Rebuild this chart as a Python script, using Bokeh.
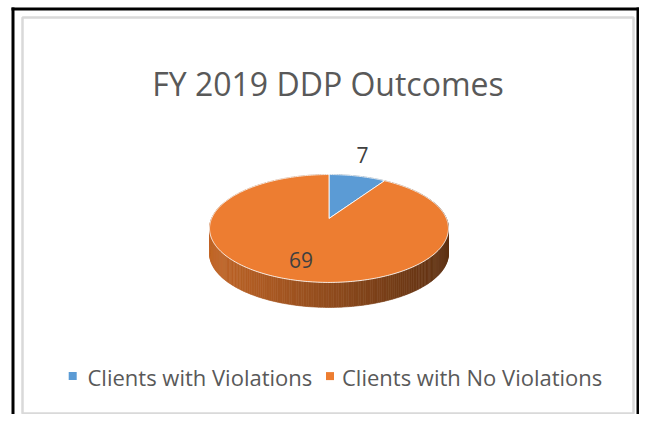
import math
from bokeh.plotting import figure
from bokeh.models import Range1d
from bokeh.core.properties import value
from bokeh.embed import file_html
from bokeh.resources import INLINE

# ---------------- data ----------------
title_text = "FY 2019 DDP Outcomes"
categories = ["Clients with Violations", "Clients with No Violations"]
counts = [7, 69]
colors = ["#5B9BD5", "#ED7D31"]

# ---------------- layout constants (pixels) ----------------
W, H = 639, 414
CX, CY = 328.5, 218.0
AX, BY = 117.4, 52.1
PERSP = -0.185
DEPTH = 25.0
LABEL_RADIUS = [1.22, 0.73]
LABEL_LIFT = [13.6, 0.0]
FONT = "Open Sans"
BASE_CORR = 0.36   # renderer places alphabetic baseline this many em too low


def by(y, size):
    return y - BASE_CORR * size


def proj(theta_deg, k=1.0):
    t = math.radians(theta_deg)
    u = k * math.sin(t)
    v = -k * math.cos(t)
    d = 1 + PERSP * v
    return CX + AX * u / d, CY + BY * v / d


def shade(hex_color, f):
    h = hex_color.lstrip("#")
    r, g, b = (int(h[i:i + 2], 16) for i in (0, 2, 4))
    return "#%02x%02x%02x" % (int(r * f), int(g * f), int(b * f))


p = figure(width=W, height=H, x_range=Range1d(0, W), y_range=Range1d(H, 0),
           output_backend="svg", toolbar_location=None, min_border=0,
           x_axis_location=None, y_axis_location=None, outline_line_color=None,
           background_fill_color="white", border_fill_color="white")
p.grid.grid_line_color = None

# frame
p.quad(left=[11, 11, 636], right=[14, 639, 639], top=[7, 7, 7], bottom=[414, 10, 414],
       fill_color="black", line_color=None)
p.quad(left=[22], right=[633], top=[17], bottom=[413], fill_color=None,
       line_color="#d9d9d9", line_width=2.5)

# title
TS = 32
p.text(x=[327.5], y=[by(94.5, TS)], text=[title_text], text_font=value(FONT),
       text_font_size=f"{TS}px", text_color="#595959", text_align="center",
       text_baseline="alphabetic")

# slice angles from the data
total = float(sum(counts))
starts, ends = [], []
acc = 0.0
for c in counts:
    starts.append(acc / total * 360.0)
    acc += c
    ends.append(acc / total * 360.0)

# side wall with horizontal shading
xmin, xmax = CX - AX * 1.02, CX + AX * 1.02
sx, sy, sc = [], [], []
for i, c in enumerate(counts):
    a = starts[i]
    while a < ends[i] - 1e-9:
        b = min(a + 1.0, ends[i])
        x0, y0 = proj(a)
        x1, y1 = proj(b)
        sx.append([x0, x1, x1, x0])
        sy.append([y0, y1, y1 + DEPTH, y0 + DEPTH])
        xm = (x0 + x1) / 2
        f = 0.82 - 0.42 * (xm - xmin) / (xmax - xmin)
        sc.append(shade(colors[i], f))
        a = b
p.patches(sx, sy, fill_color=sc, line_color=sc, line_width=0.6)

# top face
tx, ty = [], []
for i in range(len(counts)):
    n = max(2, int(ends[i] - starts[i]))
    pts = [proj(starts[i] + (ends[i] - starts[i]) * j / n) for j in range(n + 1)]
    tx.append([CX] + [q[0] for q in pts])
    ty.append([CY] + [q[1] for q in pts])
p.patches(tx, ty, fill_color=colors, line_color="white", line_width=1.0, line_alpha=0.85)

# data labels
LS = 21
lx, ly, lt = [], [], []
for i, c in enumerate(counts):
    mid = (starts[i] + ends[i]) / 2
    x, y = proj(mid, LABEL_RADIUS[i])
    lx.append(x)
    ly.append(by(y - LABEL_LIFT[i] + 7.5, LS))
    lt.append(str(c))
p.text(x=lx, y=ly, text=lt, text_font=value(FONT), text_font_size=f"{LS}px",
       text_color="#404040", text_align="center", text_baseline="alphabetic")

# legend
GS = 22
leg_sq_x = [72.2, 329.5]
leg_tx = [87.0, 341.5]
p.rect(x=leg_sq_x, y=[375.6, 375.6], width=8, height=8, fill_color=colors, line_color=None)
p.text(x=leg_tx, y=[by(384.7, GS)] * 2, text=categories, text_font=value(FONT),
       text_font_size=f"{GS}px", text_color="#595959", text_align="left",
       text_baseline="alphabetic")

open("out.html", "w").write(file_html(p, INLINE))
